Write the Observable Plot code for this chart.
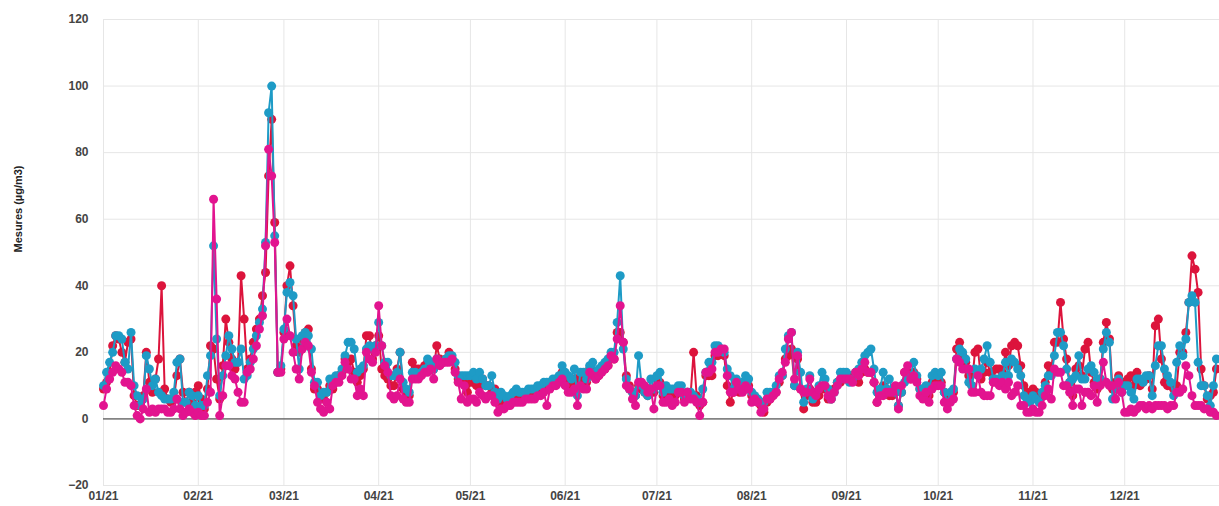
<!DOCTYPE html>
<html>
<head>
<meta charset="utf-8">
<script src="https://cdn.jsdelivr.net/npm/d3@7"></script>
<script src="https://cdn.jsdelivr.net/npm/@observablehq/plot@0.6"></script>
<style>
  html, body { margin: 0; padding: 0; background: #fff; }
  #chart svg { display: block; }
</style>
</head>
<body>
<div id="chart"></div>
<script>
// Daily values, 2021 (µg/m3), one line per month
const seriesRed = [].concat(
  [9,11,14,22,25,24,20,17,23,24,7,4,4,7,20,11,8,12,18,40,9,6,5,6,13,18,8,5,8,5,8],
  [10,6,3,9,22,21,12,6,16,30,23,18,15,17,43,30,15,18,23,27,30,37,44,73,90,59,14,15],
  [26,40,46,34,22,20,24,26,27,15,9,9,7,6,8,10,9,12,13,14,18,17,18,14,11,13,15,25,25,18,22],
  [25,15,13,12,10,10,15,20,9,8,7,17,15,15,14,16,17,16,15,22,18,17,18,20,18,15,12,11,12,8],
  [11,11,10,10,12,10,10,8,9,5,7,5,6,6,6,7,6,6,7,7,8,8,8,9,9,9,10,11,11,12,14],
  [12,12,10,12,10,13,11,11,15,14,12,13,15,15,16,19,18,26,26,23,13,10,8,7,10,9,8,7,9,8],
  [12,11,7,8,7,8,7,8,8,6,8,7,20,7,4,5,13,13,13,19,19,20,19,10,5,8,10,8,10,9,10],
  [7,6,5,4,2,5,6,7,8,11,13,18,19,21,10,18,9,3,7,9,5,5,7,9,9,6,6,9,11,11,13],
  [12,13,13,14,11,14,15,14,14,11,5,8,10,9,7,7,9,4,8,14,14,12,14,12,9,8,9,7,11,12],
  [12,11,8,6,6,8,21,23,19,17,13,10,20,21,12,14,17,14,12,15,15,14,20,16,22,23,22,16,10,8,7],
  [9,8,6,7,11,16,15,23,23,35,24,18,11,7,15,16,13,21,23,14,11,9,12,23,29,24,9,11,13,9],
  [11,12,13,10,14,10,11,12,13,9,28,30,18,11,10,10,9,10,20,20,26,35,49,45,38,15,10,6,7,8,15]
);
const seriesTeal = [].concat(
  [10,14,17,20,25,25,24,17,15,26,10,7,4,6,19,15,10,12,8,7,6,6,6,8,17,18,5,5,8,7,4],
  [7,4,4,13,19,52,24,7,13,19,25,21,17,17,21,12,13,17,21,25,29,33,53,92,100,55,14,16],
  [27,38,41,37,24,15,25,26,25,21,11,11,7,8,8,12,12,13,13,15,19,23,23,21,14,15,16,21,22,21,22],
  [29,22,17,17,13,13,14,20,11,9,8,14,14,13,14,15,18,17,15,18,17,17,18,19,19,17,13,13,13,13],
  [13,14,12,14,12,10,10,13,8,6,8,7,6,7,8,9,8,8,8,9,9,9,10,10,11,11,11,12,12,13,16],
  [14,13,12,15,7,14,14,12,16,17,14,15,16,17,18,20,20,29,43,21,12,9,8,7,19,10,8,7,12,9],
  [13,14,8,10,9,9,9,10,10,7,8,8,7,6,5,9,14,17,17,22,22,21,20,15,13,9,12,10,11,13,12],
  [8,7,6,5,5,8,8,8,10,13,13,21,25,26,10,20,14,5,9,13,6,8,10,14,12,9,6,8,11,14,14],
  [14,11,12,14,15,17,19,20,21,15,8,9,14,9,12,9,8,4,8,11,13,13,17,13,9,9,10,9,13,14],
  [13,14,8,5,8,9,18,21,20,18,11,10,15,14,15,18,22,17,12,12,12,13,17,13,18,17,15,13,7,6,5],
  [7,6,5,8,10,13,13,19,26,26,22,15,11,12,13,19,12,12,15,16,14,12,12,21,26,23,6,9,12,8],
  [10,10,8,6,12,12,11,13,13,7,16,22,22,15,13,11,7,17,22,19,24,35,37,35,17,10,10,7,4,10,18]
);
const seriesMagenta = [].concat(
  [4,9,12,14,16,15,14,11,11,10,4,1,0,3,9,2,3,2,3,3,3,2,2,3,6,3,1,2,3,2,1],
  [2,1,1,5,8,66,36,1,7,16,16,13,12,8,5,5,14,15,18,22,27,31,52,81,73,53,14,14],
  [24,30,25,20,15,12,21,23,22,14,10,5,3,2,5,3,10,11,11,13,17,15,12,12,7,9,7,20,18,17,20],
  [34,22,16,14,7,6,7,12,6,5,5,12,12,12,13,14,14,15,12,18,16,17,17,17,18,14,11,6,10,5],
  [6,6,5,8,7,6,7,7,5,2,3,3,4,4,5,5,5,5,6,6,6,6,7,7,8,4,9,10,10,11,12],
  [10,8,8,9,4,10,9,9,14,13,12,13,14,15,16,19,18,24,34,23,10,9,6,4,11,11,10,8,9,3],
  [10,10,5,5,6,4,5,8,8,5,8,6,6,5,1,5,14,14,15,20,20,21,21,13,8,8,11,9,8,10,9],
  [5,6,5,2,3,6,6,7,8,12,14,17,24,26,12,19,9,8,8,12,8,7,9,10,10,7,6,8,10,12,12],
  [12,12,11,14,13,15,17,14,14,11,5,7,7,8,8,8,10,3,10,14,16,12,13,11,7,6,8,5,9,10],
  [10,10,5,3,5,6,18,17,15,15,15,8,8,13,8,7,7,7,11,11,10,11,9,11,7,8,10,4,4,2,2],
  [3,2,2,4,7,9,6,15,14,14,10,10,8,4,9,9,4,8,8,7,10,5,10,17,11,10,10,6,11,8],
  [2,2,3,2,3,4,4,3,4,3,4,4,4,4,3,4,4,8,8,9,16,13,7,4,4,4,3,3,2,2,1]
);
const yTicks = [-20, 0, 20, 40, 60, 80, 100, 120];
const yLabel = "Mesures (µg/m3)";

const start = new Date(Date.UTC(2021, 0, 1));
const end = new Date(Date.UTC(2022, 0, 1));
const days = d3.utcDay.range(start, end);
const monthTicks = d3.utcMonth.range(start, end);

const toRows = (arr) => arr.map((v, i) => ({date: days[i], value: v}));
const series = [
  {rows: toRows(seriesRed), color: "#dc143c"},
  {rows: toRows(seriesTeal), color: "#1e9bc6"},
  {rows: toRows(seriesMagenta), color: "#e2148f"}
];

const marks = [
  Plot.gridY(yTicks, {stroke: "#e6e6e6", strokeOpacity: 1}),
  Plot.gridX(monthTicks, {stroke: "#e6e6e6", strokeOpacity: 1}),
  Plot.ruleY([0], {stroke: "#333", strokeWidth: 1}),
  Plot.axisY(yTicks, {tickSize: 0, tickPadding: 15, fontWeight: "bold", fill: "#444", label: null}),
  Plot.axisX(monthTicks, {tickSize: 0, tickPadding: 6, tickFormat: d3.utcFormat("%m/%y"), fontWeight: "bold", fill: "#444", label: null}),
  Plot.text([yLabel], {frameAnchor: "left", dx: -85, rotate: -90, fontWeight: "bold", fill: "#222", fontSize: 11})
];
for (const s of series) {
  marks.push(Plot.line(s.rows, {x: "date", y: "value", stroke: s.color, strokeWidth: 2}));
  marks.push(Plot.dot(s.rows, {x: "date", y: "value", r: 4.5, fill: s.color, stroke: "none"}));
}

const chart = Plot.plot({
  width: 1219,
  height: 506,
  marginLeft: 103,
  marginRight: 0,
  marginTop: 19,
  marginBottom: 21,
  x: {type: "utc", domain: [start, end]},
  y: {domain: [-20, 120]},
  style: {fontFamily: "'Liberation Sans', Arial, sans-serif", fontSize: "12px", background: "#fff", overflow: "visible"},
  marks
});
document.getElementById("chart").appendChild(chart);
</script>
</body>
</html>
